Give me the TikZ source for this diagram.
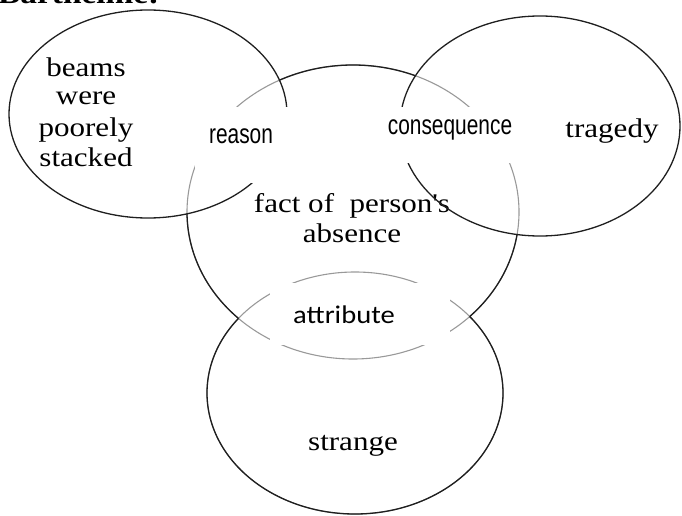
\documentclass[tikz,border=0pt]{standalone}
\usepackage{fontspec}
\newfontfamily\fSerif[FakeStretch=1.15]{Liberation Serif}
\newfontfamily\fArial[FakeStretch=0.76]{Liberation Sans}
\newfontfamily\fCalib[FakeStretch=1.12]{Carlito}
\begin{document}
\begin{tikzpicture}[x=1pt,y=-1pt,
  ring/.style={line width=1.3pt, draw=black!88},
  faint/.style={line width=1.1pt, draw=black!40},
  patch/.style={fill=white, draw=none, inner sep=0pt},
  word/.style={font=\fSerif\fontsize{27}{31}\selectfont, anchor=base, inner sep=0pt},
  tag/.style={font=\fArial\fontsize{27.5}{31}\selectfont, anchor=base, inner sep=0pt},
  caltag/.style={font=\fCalib\fontsize{25.5}{29}\selectfont, anchor=base, inner sep=0pt}]
\useasboundingbox (0,0) rectangle (682,516);

% the four overlapping ellipses
\def\EA{(148,114) ellipse [x radius=139pt, y radius=104pt]}
\def\EB{(353,212) ellipse [x radius=166pt, y radius=147pt]}
\def\EC{(540,126) ellipse [x radius=140pt, y radius=110pt]}
\def\ED{(355,393) ellipse [x radius=148pt, y radius=121pt]}
\def\Big{(-20,-20) rectangle (720,540)}

% heading, cut by the top edge
\node[anchor=base west, font=\fSerif\bfseries\fontsize{29}{32}\selectfont, inner sep=0pt] (title) at (-2,4) {Barthelme:};

% labels inside the ellipses
\node[word] (b1) at (86,77) {beams};
\node[word] (b2) at (86,105) {were};
\node[word] (b3) at (86,136) {poorely};
\node[word] (b4) at (86,166) {stacked};
\node[word] (fact) at (352,212) {fact of\ \ person's};
\node[word] (absence) at (352,242) {absence};
\node[word] (tragedy) at (612,137) {tragedy};
\node[word] (strange) at (353,450) {strange};

% outlines: faint everywhere, dark where they lie on top
\path[faint] \EB;
\path[faint] \ED;
\begin{scope}[even odd rule]
  \clip \Big \EA;
  \clip \Big \EC;
  \clip \Big \ED;
  \path[ring] \EB;
\end{scope}
\begin{scope}[even odd rule]
  \clip \Big \EB;
  \path[ring] \ED;
\end{scope}
\path[ring] \EA;
\path[ring] \EC;

% white patches carrying the relation names
\node[patch, minimum width=105pt, minimum height=76pt] (reasonbox) at (247.5,145) {};
\node[patch, minimum width=145pt, minimum height=56pt] (consbox) at (457.5,135) {};
\node[patch, minimum width=180pt, minimum height=62pt] (attrbox) at (360,314) {};
\node[tag] (reason) at (241,143) {reason};
\node[tag] (consequence) at (450,135) {consequence};
\node[caltag] (attribute) at (344,323) {attribute};
\end{tikzpicture}
\end{document}
